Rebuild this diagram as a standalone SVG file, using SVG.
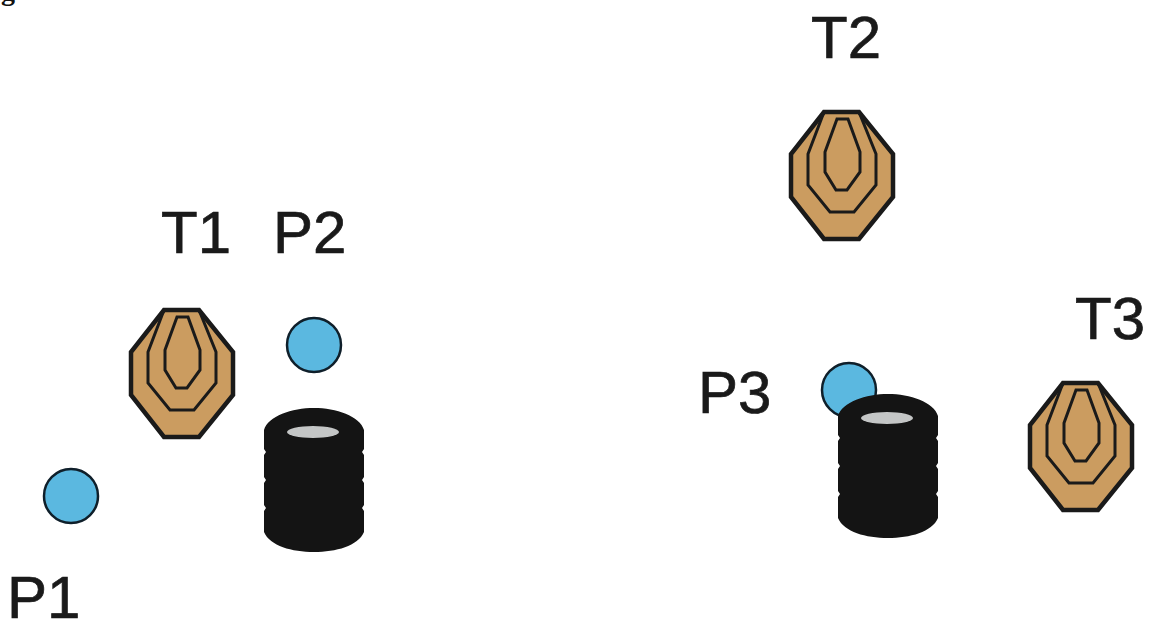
<svg xmlns="http://www.w3.org/2000/svg" width="1155" height="623" viewBox="0 0 1155 623">
<style>
.lbl{font-family:"Liberation Sans",Arial,sans-serif;font-size:60px;fill:#1a1a1a;stroke:#1a1a1a;stroke-width:.7}
.pt{fill:#5bb8e0;stroke:#0f1f2a;stroke-width:2.5}
.o{fill:#cb9c60;stroke:#1a1a1a;stroke-width:4.5;stroke-linejoin:miter}
.i{fill:none;stroke:#1a1a1a;stroke-width:3}
</style>
<defs>
<g id="target">
<polygon class="o" points="164,310 199,310 233,352 233,395 199,437 164,437 131,395 131,352"/>
<polyline class="i" points="164,310 148,352 148,383 170,410 194,410 216,383 216,352 199,310"/>
<polygon class="i" points="177,317 188,317 200,350 200,370 187,388 176,388 165,370 165,350"/>
</g>
<g id="tire">
<path fill="#141414" d="M264,430 C268,416 292,408 314,408 C336,408 360,416 364,430 L364,449 L362,452 L364,455 L364,477 L362,480 L364,483 L364,505 L362,508 L364,511 L364,532 C358,546 336,552 314,552 C292,552 270,546 264,532 L264,511 L266,508 L264,505 L264,483 L266,480 L264,477 L264,455 L266,452 L264,449 Z"/>
<ellipse cx="313" cy="432" rx="26" ry="6" fill="#c4c6c6"/>
</g>
</defs>
<text x="1" y="0" style="font-family:'Liberation Serif',serif;font-weight:bold;font-size:28px;fill:#111">g</text>
<g id="P1"><circle class="pt" cx="71" cy="496" r="27"/><text class="lbl" x="7" y="618">P1</text></g>
<g id="T1"><use href="#target"/><text class="lbl" x="161" y="253">T1</text></g>
<g id="P2"><circle class="pt" cx="314" cy="345" r="27"/><text class="lbl" x="273" y="253">P2</text></g>
<g id="obstacle1"><use href="#tire"/></g>
<g id="T2"><use href="#target" transform="translate(660,-198)"/><text class="lbl" x="811" y="58">T2</text></g>
<g id="P3"><circle class="pt" cx="849" cy="390" r="27"/><text class="lbl" x="698" y="413">P3</text></g>
<g id="obstacle2"><use href="#tire" transform="translate(574,-14)"/></g>
<g id="T3"><use href="#target" transform="translate(899,73)"/><text class="lbl" x="1075" y="339">T3</text></g>
<g id="connectors"/>
</svg>
